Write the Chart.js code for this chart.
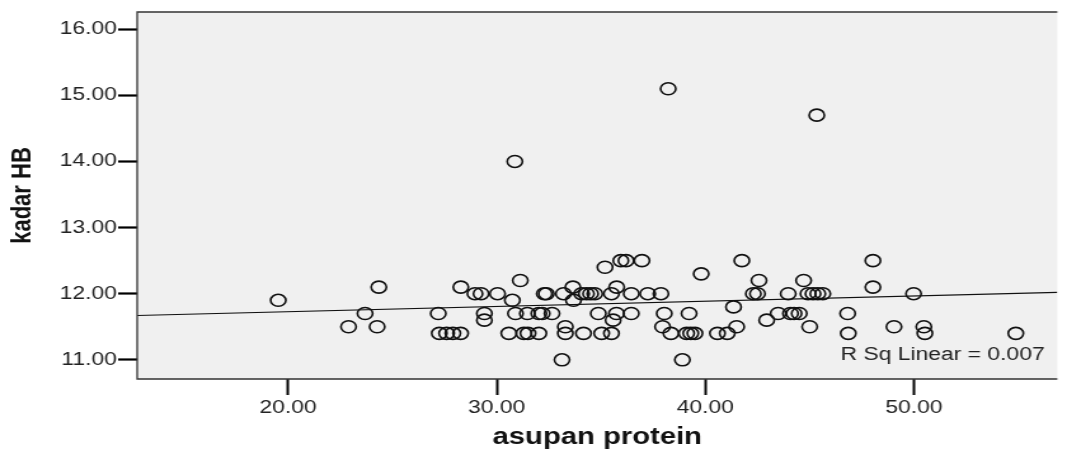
<!DOCTYPE html>
<html>
<head>
<meta charset="utf-8">
<script src="https://cdn.jsdelivr.net/npm/chart.js@4/dist/chart.umd.min.js"></script>
<style>
  html, body { margin: 0; padding: 0; background: #fff; }
  #hb { display: block; width: 1067px; height: 453px; }
</style>
</head>
<body>
<!-- drawn at 840 wide and shown at 1067, the reference is stretched sideways -->
<canvas id="hb" width="840" height="453" style="width:1067px;height:453px"></canvas>
<script>
// asupan protein (x) and kadar HB (y), one entry per respondent
const protein = [
  35.95, 36.2, 36.96, 41.75, 48.03,
  35.19,
  39.8,
  31.13, 42.57, 44.71,
  24.35, 28.28, 33.65, 35.75, 48.03,
  28.96, 29.25, 30.04, 32.28, 32.38, 33.2, 34.07, 34.3, 34.5, 34.7, 35.5,
  36.45, 37.24, 37.87, 42.3, 42.5, 43.97, 44.92, 45.16, 45.39, 45.63, 49.98,
  19.53, 30.75, 33.68,
  41.35,
  23.69, 27.2, 29.41, 30.9, 31.47, 32.02, 32.18, 32.65, 34.87, 35.74, 36.45,
  38.03, 39.22, 43.49, 44.08, 44.25, 44.5, 46.82,
  29.41, 35.58, 42.94,
  22.9, 24.27, 33.29, 37.95, 41.5, 45.0, 49.04, 50.47,
  27.25, 27.6, 27.9, 28.27, 30.58, 31.3, 31.5, 32.02, 33.29, 34.16, 35.03,
  35.5, 38.35, 39.1, 39.3, 39.5, 40.58, 41.05, 46.85, 50.52, 54.88,
  33.13, 38.9,
  30.87, 38.22, 45.34
];
const kadarHB = [
  12.5, 12.5, 12.5, 12.5, 12.5,
  12.4,
  12.3,
  12.2, 12.2, 12.2,
  12.1, 12.1, 12.1, 12.1, 12.1,
  12.0, 12.0, 12.0, 12.0, 12.0, 12.0, 12.0, 12.0, 12.0, 12.0, 12.0,
  12.0, 12.0, 12.0, 12.0, 12.0, 12.0, 12.0, 12.0, 12.0, 12.0, 12.0,
  11.9, 11.9, 11.9,
  11.8,
  11.7, 11.7, 11.7, 11.7, 11.7, 11.7, 11.7, 11.7, 11.7, 11.7, 11.7,
  11.7, 11.7, 11.7, 11.7, 11.7, 11.7, 11.7,
  11.6, 11.6, 11.6,
  11.5, 11.5, 11.5, 11.5, 11.5, 11.5, 11.5, 11.5,
  11.4, 11.4, 11.4, 11.4, 11.4, 11.4, 11.4, 11.4, 11.4, 11.4, 11.4,
  11.4, 11.4, 11.4, 11.4, 11.4, 11.4, 11.4, 11.4, 11.4, 11.4,
  11.0, 11.0,
  14.0, 15.1, 14.7
];

// fit line end points as they sit on the plot edges
const fitX = [12.77, 56.87];
const fitY = [11.67, 12.02];

const xTicks = [20, 30, 40, 50];
const yTicks = [11, 12, 13, 14, 15, 16];
const rSqLabel = 'R Sq Linear = 0.007';

const FONT = '"Liberation Sans", Arial, sans-serif';
const INK = '#222';

const plotBox = {
  id: 'plotBox',
  beforeDraw(chart) {
    const { ctx, chartArea: a } = chart;
    ctx.save();
    ctx.fillStyle = '#f0f0f0';
    ctx.fillRect(a.left, a.top, a.right - a.left, a.bottom - a.top);
    ctx.restore();
  },
  afterDraw(chart) {
    const { ctx, chartArea: a } = chart;
    ctx.save();
    ctx.strokeStyle = '#333';
    ctx.lineWidth = 1.3;
    ctx.beginPath();
    ctx.moveTo(a.right, a.top);
    ctx.lineTo(a.left, a.top);
    ctx.lineTo(a.left, a.bottom);
    ctx.lineTo(a.right, a.bottom);
    ctx.stroke();

    ctx.fillStyle = INK;
    ctx.font = '18px ' + FONT;
    ctx.textAlign = 'right';
    ctx.textBaseline = 'alphabetic';
    ctx.fillText(rSqLabel, a.right - 10, a.bottom - 19);
    ctx.restore();
  }
};

function main() {
  const canvas = document.getElementById('hb');
  const points = protein.map((x, i) => ({ x, y: kadarHB[i] }));
  const fit = fitX.map((x, i) => ({ x, y: fitY[i] }));

  new Chart(canvas, {
    type: 'scatter',
    data: {
      datasets: [
        {
          data: fit,
          showLine: true,
          borderColor: '#111',
          borderWidth: 1.2,
          pointRadius: 0
        },
        {
          data: points,
          pointStyle: 'circle',
          pointRadius: 6,
          borderColor: '#111',
          borderWidth: 1.6,
          backgroundColor: 'rgba(0,0,0,0)'
        }
      ]
    },
    options: {
      responsive: false,
      animation: false,
      events: [],
      layout: { padding: { top: 12, left: 0, right: 0, bottom: 0 } },
      plugins: {
        legend: { display: false },
        tooltip: { enabled: false }
      },
      scales: {
        x: {
          type: 'linear',
          min: 12.77,
          max: 56.87,
          afterBuildTicks: scale => { scale.ticks = xTicks.map(value => ({ value })); },
          afterFit: scale => { scale.height = 74; },
          ticks: {
            callback: v => Number(v).toFixed(2),
            font: { family: FONT, size: 18 },
            color: INK,
            padding: 2,
            autoSkip: false,
            maxRotation: 0
          },
          grid: { drawOnChartArea: false, tickLength: 16, tickWidth: 2, tickColor: '#000' },
          border: { display: false },
          title: {
            display: true,
            text: 'asupan protein',
            font: { family: FONT, size: 23, weight: 'bold' },
            color: '#111',
            padding: { top: 0, bottom: 2 }
          }
        },
        y: {
          type: 'linear',
          min: 10.71,
          max: 16.26,
          afterBuildTicks: scale => { scale.ticks = yTicks.map(value => ({ value })); },
          afterFit: scale => { scale.width = 108; },
          ticks: {
            callback: v => Number(v).toFixed(2),
            font: { family: FONT, size: 18 },
            color: INK,
            padding: 1,
            autoSkip: false
          },
          grid: { drawOnChartArea: false, tickLength: 15, tickWidth: 2.2, tickColor: '#000' },
          border: { display: false },
          title: {
            display: true,
            text: 'kadar HB',
            font: { family: FONT, size: 22, weight: 'bold' },
            color: '#111',
            padding: { top: 5, bottom: 0 }
          }
        }
      }
    },
    plugins: [plotBox]
  });
}

main();
</script>
</body>
</html>
